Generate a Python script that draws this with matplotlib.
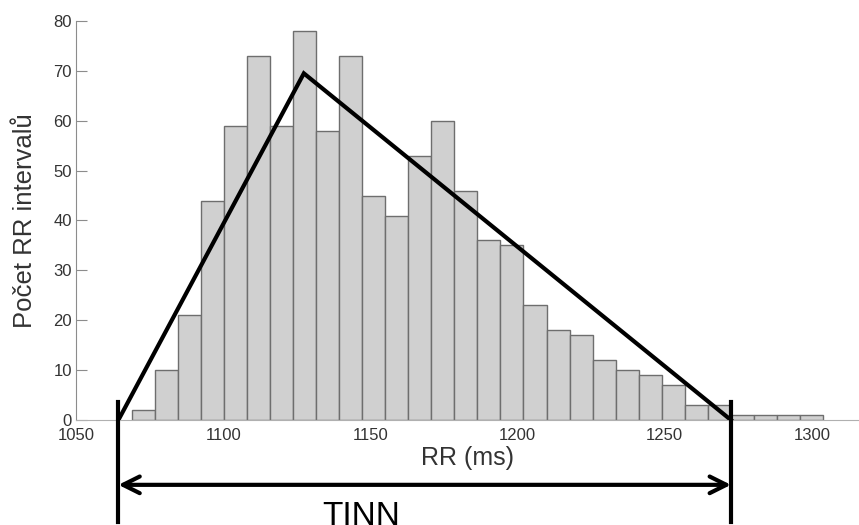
import numpy as np
import matplotlib
matplotlib.use("Agg")
import matplotlib.pyplot as plt

plt.rcParams['font.family'] = ['Liberation Sans', 'DejaVu Sans']

# histogram of RR intervals
counts = [2, 10, 21, 44, 59, 73, 59, 78, 58, 73, 45, 41, 53, 60, 46,
          36, 35, 23, 18, 17, 12, 10, 9, 7, 3, 3, 1, 1, 1, 1]
bin_start = 1068.9
bin_width = 7.83

# TINN triangle (N, peak, M)
tri_x = [1064.4, 1127.4, 1272.5]
tri_y = [0, 69.5, 0]

xticks = [1050, 1100, 1150, 1200, 1250, 1300]
yticks = [0, 10, 20, 30, 40, 50, 60, 70, 80]

edges = bin_start + bin_width * np.arange(len(counts) + 1)

fig = plt.figure(figsize=(8.59, 5.25), dpi=100)
ax = fig.add_axes([0.0885, 0.2, 0.9115, 0.76])

ax.bar(edges[:-1], counts, width=bin_width, align='edge',
       color='#d0d0d0', edgecolor='#6e6e6e', linewidth=1.0)

ax.plot(tri_x, tri_y, color='black', lw=3, solid_joinstyle='miter', zorder=5)

# vertical bounds and TINN arrow below axis
for xv in (tri_x[0], tri_x[2]):
    ax.plot([xv, xv], [3.7, -20.5], color='black', lw=3, clip_on=False, zorder=6)
ax.annotate('', xy=(tri_x[0], -13.0), xytext=(tri_x[2], -13.0),
            xycoords='data', annotation_clip=False,
            arrowprops=dict(arrowstyle='<->', lw=3, color='black',
                            shrinkA=0, shrinkB=0, mutation_scale=30))
ax.text(1147, -16.3, 'TINN', fontsize=24, ha='center', va='top',
        clip_on=False)

ax.set_xlim(1050, 1316)
ax.set_ylim(0, 80)
ax.set_xticks(xticks)
ax.set_yticks(yticks)

for s in ('top', 'right'):
    ax.spines[s].set_visible(False)
ax.spines['left'].set_color('#8c8c8c')
ax.spines['bottom'].set_color('#b0b0b0')
ax.tick_params(axis='y', direction='in', length=8, color='#8c8c8c',
               labelsize=12, labelcolor='#333333', pad=3)
ax.tick_params(axis='x', direction='in', length=0, labelsize=12,
               labelcolor='#333333', pad=6)

ax.set_xlabel('RR (ms)', fontsize=18, color='#333333', labelpad=2)
ax.set_ylabel('Počet RR intervalů', fontsize=18.5, color='#333333', labelpad=12)

fig.savefig('out.png', dpi=100)
